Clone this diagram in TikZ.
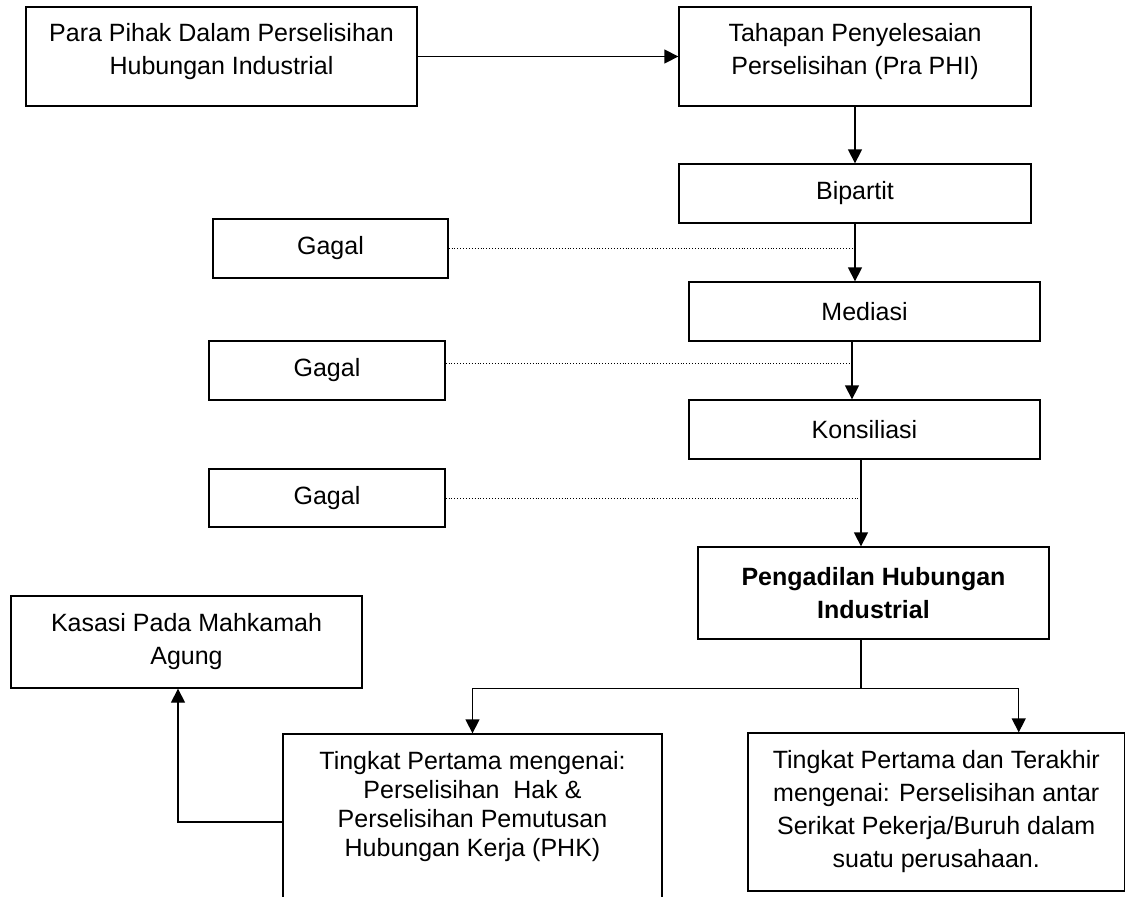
\documentclass[tikz,border=0pt]{standalone}
\usepackage{fontspec}
\setmainfont{Liberation Sans}
\usetikzlibrary{arrows.meta,positioning,calc}

\begin{document}
\begin{tikzpicture}[x=0.5pt,y=-0.5pt,
  box/.style={draw,line width=0.65pt,align=center,inner sep=2pt,font=\fontsize{12.5}{16.5}\selectfont},
  arr/.style={-{Triangle[length=7pt,width=7pt]},line width=0.65pt},
  fail/.style={densely dotted,line width=0.45pt}]
\useasboundingbox (0,0) rectangle (1126,896);
% top row
\node[box,minimum width=195.5pt,minimum height=49.5pt] (pihak) at (221.5,56.5) {Para Pihak Dalam Perselisihan\\Hubungan Industrial\\[-9pt]};
\node[box,minimum width=176pt,minimum height=49.5pt] (tahapan) at (855,56.5) {Tahapan Penyelesaian\\Perselisihan (Pra PHI)\\[-9pt]};
% stages
\node[box,minimum width=176pt,minimum height=29.5pt] (bipartit) at (855,193.5) {Bipartit};
\node[box,minimum width=175.5pt,minimum height=29.5pt] (mediasi) at (864.5,311.5) {Mediasi};
\node[box,minimum width=175.5pt,minimum height=29.5pt] (konsiliasi) at (864.5,429.5) {Konsiliasi};
\node[box,minimum width=175.5pt,minimum height=46pt,font=\fontsize{12.5}{16.5}\selectfont\bfseries] (phi) at (873.5,593) {Pengadilan Hubungan\\Industrial};
% failures
\node[box,minimum width=117.5pt,minimum height=29.5pt] (gagal1) at (330.5,248.5) {Gagal};
\node[box,minimum width=118pt,minimum height=29.5pt] (gagal2) at (327,370.5) {Gagal};
\node[box,minimum width=118pt,minimum height=29pt] (gagal3) at (327,498) {Gagal};
% bottom
\node[box,minimum width=175.5pt,minimum height=46pt] (kasasi) at (186.5,642) {Kasasi Pada Mahkamah\\Agung};
\node[box,minimum width=189.5pt,minimum height=88pt,font=\fontsize{12.5}{14.5}\selectfont] (pertama) at (472.5,822) {Tingkat Pertama mengenai:\\Perselisihan\ \ Hak \&\\Perselisihan Pemutusan\\Hubungan Kerja (PHK)\\[4pt]};
\node[box,minimum width=188.25pt,minimum height=79pt] (terakhir) at (936.25,812) {Tingkat Pertama dan Terakhir\\mengenai: Perselisihan antar\\Serikat Pekerja/Buruh dalam\\suatu perusahaan.};

\coordinate (m2k) at ([xshift=-6.25pt]konsiliasi.north);
\coordinate (k2p) at ([xshift=-6.25pt]phi.north);
\coordinate (cabang) at ([xshift=-6.25pt,yshift=-24.5pt]phi.south);
\coordinate (g2) at ([yshift=3.75pt]gagal2.east);

\draw[arr] (pihak) -- (tahapan);
\draw[arr] (tahapan) -- (bipartit);
\draw[arr] (bipartit) -- (bipartit |- mediasi.north);
\draw[arr] ([xshift=-6.25pt]mediasi.south) -- (m2k);
\draw[arr] ([xshift=-1.75pt]konsiliasi.south) -- (k2p);
\draw[line width=0.65pt] ([xshift=-6.25pt]phi.south) -- (cabang);
\draw[arr] (cabang) -| (pertama.north);
\draw[arr] (cabang) -| ([xshift=41.25pt]terakhir.north);
\draw[arr] (pertama.west) -| ([xshift=-4.25pt]kasasi.south);

\draw[fail] (gagal1.east) -- (gagal1.east -| bipartit.south);
\draw[fail] (g2) -- (g2 -| m2k);
\draw[fail] (gagal3.east) -- (gagal3.east -| k2p);
\end{tikzpicture}
\end{document}
